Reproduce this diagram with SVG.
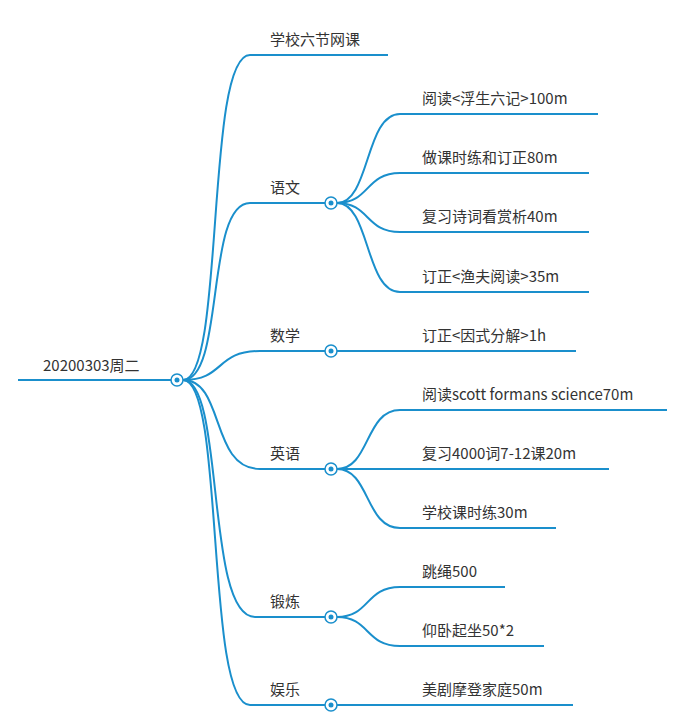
<svg xmlns="http://www.w3.org/2000/svg" width="700" height="726" viewBox="0 0 700 726">
<style>
.c{fill:none;stroke:#1a8fcc;stroke-width:2}
text{font-family:"Noto Sans CJK SC","Noto Sans",sans-serif;font-size:15px;fill:#333}
.k{fill:#fff;stroke:#1a8fcc;stroke-width:1.5}
.d{fill:#1a8fcc}
</style>
<rect width="700" height="726" fill="#fff"/>
<g id="connectors">
<path class="c" d="M18 380H177"/>
<path class="c" d="M183 380C225 380 205 55 250 55H388"/>
<path class="c" d="M183 380C225 380 205 203 250 203H331"/>
<path class="c" d="M183 380C225 380 215 351 260 351H331"/>
<path class="c" d="M183 380C225 380 210 469 260 469H331"/>
<path class="c" d="M183 380C225 380 205 617 255 617H331"/>
<path class="c" d="M183 380C225 380 205 705 250 705H331"/>
<path class="c" d="M337 203C370 203 365 114 400 114H598"/>
<path class="c" d="M337 203C370 203 365 173 400 173H589"/>
<path class="c" d="M337 203C370 203 365 232 400 232H589"/>
<path class="c" d="M337 203C370 203 365 292 400 292H589"/>
<path class="c" d="M337 351H576"/>
<path class="c" d="M337 469C370 469 365 410 400 410H667"/>
<path class="c" d="M337 469H609"/>
<path class="c" d="M337 469C370 469 365 528 400 528H556"/>
<path class="c" d="M337 617C370 617 365 587 400 587H505"/>
<path class="c" d="M337 617C370 617 365 646 400 646H544"/>
<path class="c" d="M337 705H573"/>
</g>
<g id="root"><text x="43" y="371">20200303周二</text><circle class="k" cx="177" cy="380" r="6"/><circle class="d" cx="177" cy="380" r="2.5"/></g>
<g id="n1"><text x="270" y="45">学校六节网课</text></g>
<g id="n2"><text x="270" y="193">语文</text><circle class="k" cx="331" cy="203" r="6"/><circle class="d" cx="331" cy="203" r="2.5"/></g>
<g id="n3"><text x="270" y="341">数学</text><circle class="k" cx="331" cy="351" r="6"/><circle class="d" cx="331" cy="351" r="2.5"/></g>
<g id="n4"><text x="270" y="459">英语</text><circle class="k" cx="331" cy="469" r="6"/><circle class="d" cx="331" cy="469" r="2.5"/></g>
<g id="n5"><text x="270" y="607">锻炼</text><circle class="k" cx="331" cy="617" r="6"/><circle class="d" cx="331" cy="617" r="2.5"/></g>
<g id="n6"><text x="270" y="695">娱乐</text><circle class="k" cx="331" cy="705" r="6"/><circle class="d" cx="331" cy="705" r="2.5"/></g>
<g id="l1"><text x="422" y="104">阅读&lt;浮生六记&gt;100m</text></g>
<g id="l2"><text x="422" y="163">做课时练和订正80m</text></g>
<g id="l3"><text x="422" y="222">复习诗词看赏析40m</text></g>
<g id="l4"><text x="422" y="282">订正&lt;渔夫阅读&gt;35m</text></g>
<g id="l5"><text x="422" y="341">订正&lt;因式分解&gt;1h</text></g>
<g id="l6"><text x="422" y="400">阅读scott formans science70m</text></g>
<g id="l7"><text x="422" y="459">复习4000词7-12课20m</text></g>
<g id="l8"><text x="422" y="518">学校课时练30m</text></g>
<g id="l9"><text x="422" y="577">跳绳500</text></g>
<g id="l10"><text x="422" y="636">仰卧起坐50*2</text></g>
<g id="l11"><text x="422" y="695">美剧摩登家庭50m</text></g>
</svg>
